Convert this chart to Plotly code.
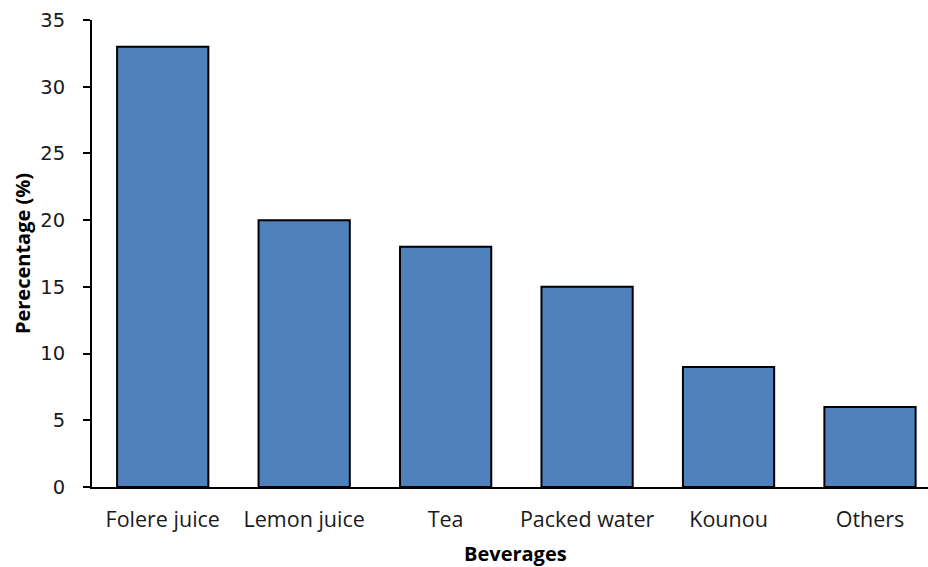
import plotly.graph_objects as go

# Beverage consumption shares
beverages = ["Folere juice", "Lemon juice", "Tea", "Packed water", "Kounou", "Others"]
percentages = [33, 20, 18, 15, 9, 6]
y_ticks = [0, 5, 10, 15, 20, 25, 30, 35]

fig = go.Figure(
    go.Bar(
        x=beverages,
        y=percentages,
        width=0.645,
        marker=dict(color="#4F81BD", line=dict(color="#000000", width=2)),
    )
)

fig.update_layout(
    width=928,
    height=567,
    margin=dict(l=92, r=0, t=20, b=80),
    paper_bgcolor="white",
    plot_bgcolor="white",
    showlegend=False,
    font=dict(family="Open Sans", color="#000000"),
)

fig.update_xaxes(
    range=[-0.5, 5.41],
    automargin=False,
    showline=True,
    linecolor="#000000",
    linewidth=2,
    ticks="",
    tickfont=dict(family="Open Sans", size=21.5, color="#1a1a1a"),
    ticklabelstandoff=12,
)

# x-axis title placed below the tick labels
fig.add_annotation(
    text="<b>Beverages</b>",
    xref="paper", yref="paper",
    x=0.506, y=0,
    xanchor="center", yanchor="middle",
    yshift=-66,
    showarrow=False,
    font=dict(family="Open Sans", size=20, color="#000000"),
)

fig.update_yaxes(
    range=[0, 35],
    automargin=False,
    tickvals=y_ticks,
    showline=True,
    linecolor="#000000",
    linewidth=2,
    ticks="outside",
    ticklen=7,
    tickwidth=2,
    tickcolor="#000000",
    showgrid=False,
    zeroline=False,
    tickfont=dict(family="DejaVu Sans", size=19.5, color="#1a1a1a"),
    ticklabelstandoff=14,
    title=dict(text="<b>Perecentage (%)</b>", font=dict(family="Open Sans", size=20), standoff=4),
)

fig.write_html("out.html")
